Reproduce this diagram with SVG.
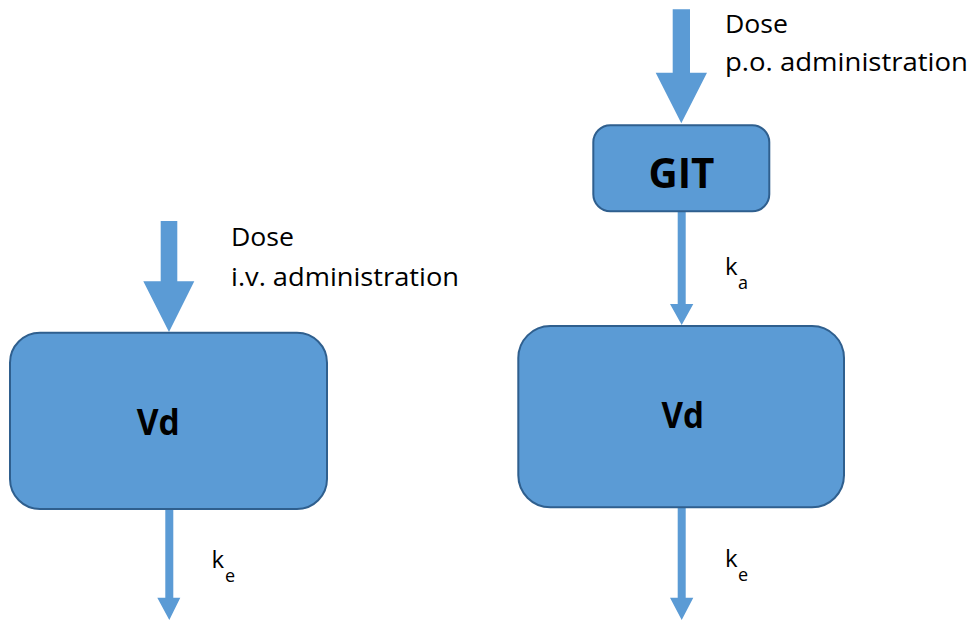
<svg xmlns="http://www.w3.org/2000/svg" width="976" height="621" viewBox="0 0 976 621">
  <style>
    .box { fill: #5B9BD5; stroke: #2F5F8E; stroke-width: 2; }
    .arrow { fill: #5B9BD5; stroke: none; }
    .lbl { font-family: "Open Sans", "Liberation Sans", sans-serif; font-size: 26px; fill: #000; }
    .sub { font-family: "Open Sans", "Liberation Sans", sans-serif; font-size: 18px; fill: #000; }
    .k { font-family: "Open Sans", "Liberation Sans", sans-serif; font-size: 24px; fill: #000; }
    .title { font-family: "Open Sans", "Liberation Sans", sans-serif; font-weight: bold; fill: #000; text-anchor: middle; }
  </style>
  <rect width="976" height="621" fill="#ffffff"/>

  <!-- flows: dosing, absorption and elimination -->
  <g id="connectors">
    <!-- i.v. dose into central compartment -->
    <polygon class="arrow" points="160.7,221 177.3,221 177.3,281.3 194.3,281.3 169,332 143.3,281.3 160.7,281.3"/>
    <!-- elimination, i.v. model -->
    <polygon class="arrow" points="165.3,509 173.3,509 173.3,597.7 180.3,597.7 169.3,620 157.3,597.7 165.3,597.7"/>
    <!-- p.o. dose into GIT -->
    <polygon class="arrow" points="672.7,9.3 690,9.3 690,72.7 707,72.7 681.3,123.3 655.7,72.7 672.7,72.7"/>
    <!-- absorption GIT -> Vd -->
    <polygon class="arrow" points="677.7,211 685.7,211 685.7,304 693.3,304 681.7,325 670,304 677.7,304"/>
    <!-- elimination, p.o. model -->
    <polygon class="arrow" points="677.7,507 685.7,507 685.7,597.7 693.3,597.7 681.7,620 670,597.7 677.7,597.7"/>
  </g>

  <!-- labels -->
  <g id="labels">
    <text class="lbl" x="231" y="246" textLength="63" lengthAdjust="spacingAndGlyphs">Dose</text>
    <text class="lbl" x="231" y="286" textLength="228" lengthAdjust="spacingAndGlyphs">i.v. administration</text>
    <text class="lbl" x="725" y="32.5" textLength="63" lengthAdjust="spacingAndGlyphs">Dose</text>
    <text class="lbl" x="725" y="71" textLength="243" lengthAdjust="spacingAndGlyphs">p.o. administration</text>
    <text class="k" x="211.5" y="568">k</text>
    <text class="sub" x="225" y="582">e</text>
    <text class="k" x="725" y="275">k</text>
    <text class="sub" x="738" y="288.5">a</text>
    <text class="k" x="725" y="567">k</text>
    <text class="sub" x="738" y="580.5">e</text>
  </g>

  <g id="vd-iv">
    <rect class="box" x="10" y="332.7" width="317" height="176.3" rx="30" ry="30"/>
    <text class="title" x="158.3" y="435" font-size="35" textLength="43" lengthAdjust="spacingAndGlyphs">Vd</text>
  </g>

  <g id="git">
    <rect class="box" x="593.3" y="125.3" width="176" height="86" rx="17" ry="17"/>
    <text class="title" x="681.5" y="188.3" font-size="41" textLength="66" lengthAdjust="spacingAndGlyphs">GIT</text>
  </g>

  <g id="vd-po">
    <rect class="box" x="518.3" y="326" width="325.7" height="181.3" rx="32" ry="32"/>
    <text class="title" x="682.8" y="428.3" font-size="35" textLength="42.5" lengthAdjust="spacingAndGlyphs">Vd</text>
  </g>
</svg>
